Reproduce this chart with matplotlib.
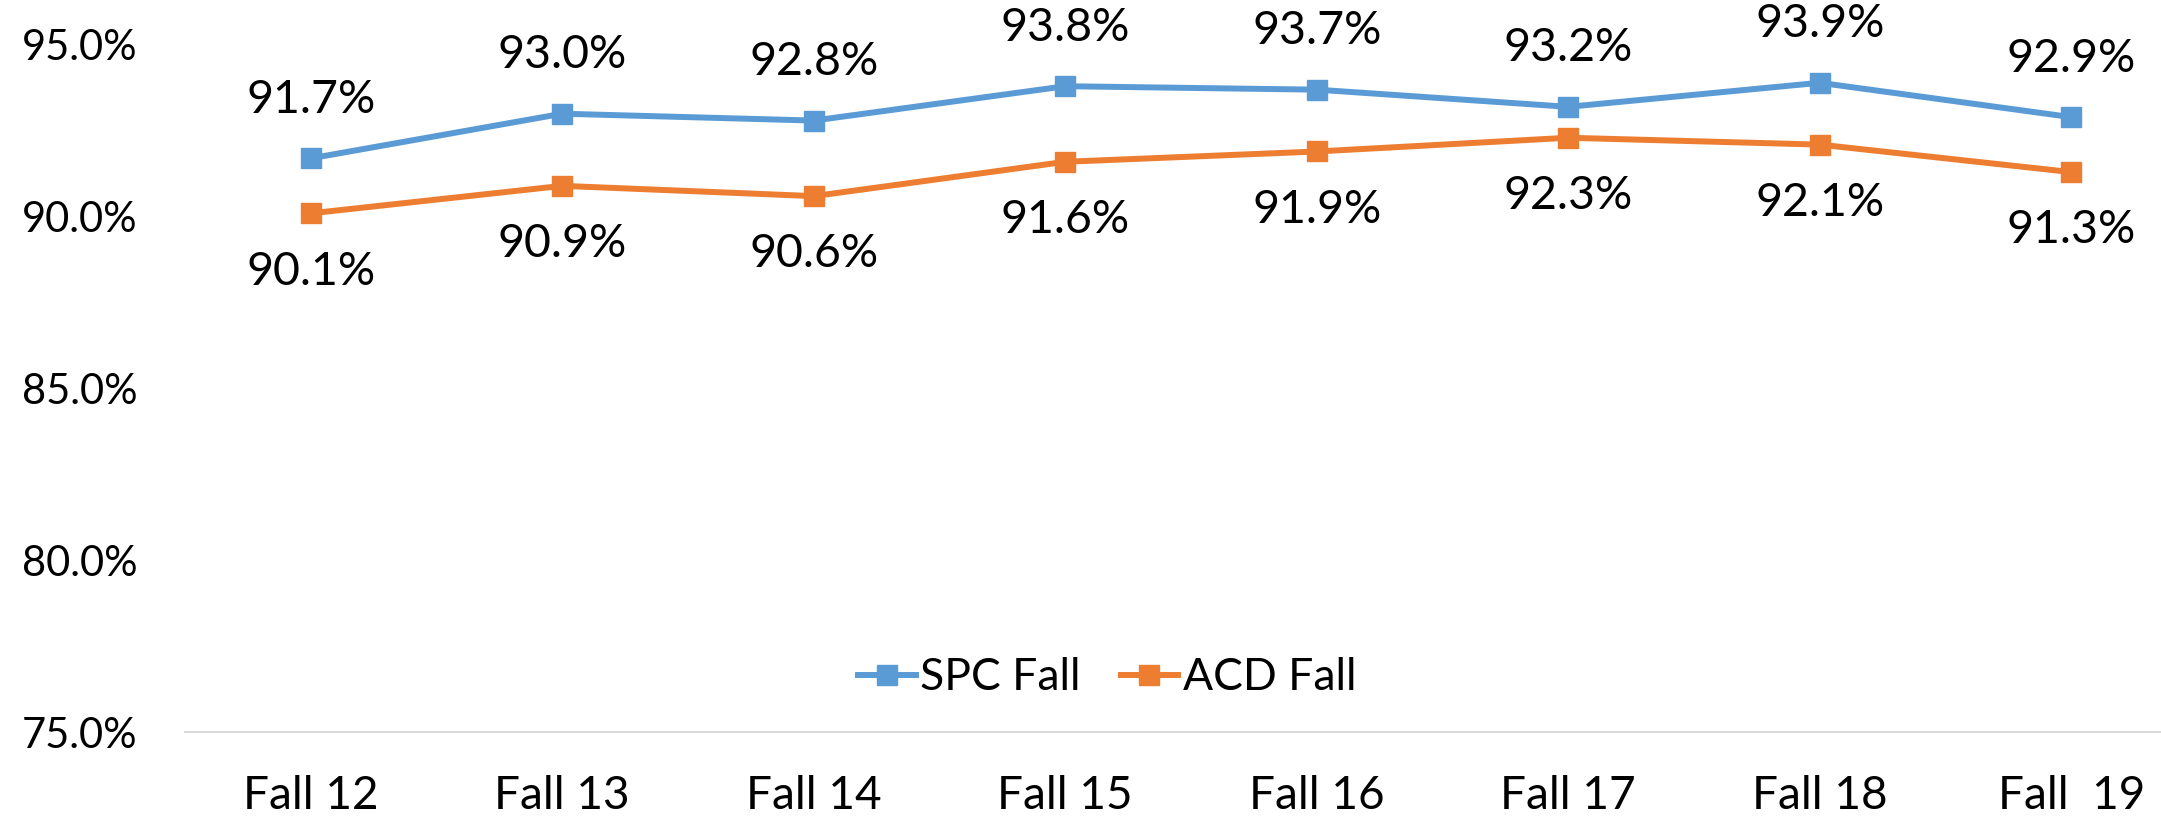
import matplotlib
matplotlib.use("Agg")
import matplotlib.pyplot as plt
import numpy as np

###--- Data ---###
terms = ["Fall 12", "Fall 13", "Fall 14", "Fall 15", "Fall 16", "Fall 17", "Fall 18", "Fall  19"]
spc_fall = [91.7, 93.0, 92.8, 93.8, 93.7, 93.2, 93.9, 92.9]
acd_fall = [90.1, 90.9, 90.6, 91.6, 91.9, 92.3, 92.1, 91.3]
y_ticks = [75.0, 80.0, 85.0, 90.0, 95.0]

blue = "#5B9BD5"
orange = "#ED7D31"

plt.rcParams['font.family'] = ['Lato', 'DejaVu Sans']

fig = plt.figure(figsize=(21.61, 8.25), dpi=100)
# axes right edge runs past the figure, the original chart is cropped there
ax = fig.add_axes([185 / 2161, 1 - 732 / 825, (2197 - 185) / 2161, (732 - 45) / 825])

x = np.arange(len(terms))
ax.plot(x, spc_fall, color=blue, lw=4.3, marker="s", ms=15, label="SPC Fall", clip_on=False)
ax.plot(x, acd_fall, color=orange, lw=4.3, marker="s", ms=15, label="ACD Fall", clip_on=False)

# data labels: SPC above, ACD below
for xi, v in zip(x, spc_fall):
    ax.annotate(f"{v:.1f}%", (xi, v), xytext=(0, 42), textcoords="offset points",
                ha="center", va="center", fontsize=33.5)
for xi, v in zip(x, acd_fall):
    ax.annotate(f"{v:.1f}%", (xi, v), xytext=(0, -42), textcoords="offset points",
                ha="center", va="center", fontsize=33.5)

ax.set_xlim(-0.5, len(terms) - 0.5)
ax.set_ylim(75, 95)
ax.set_xticks(x)
ax.set_xticklabels(terms, fontsize=33)
ax.set_yticks(y_ticks)
ax.set_yticklabels([f"{t:.1f}%" for t in y_ticks], fontsize=30)
ax.tick_params(axis="y", length=0, pad=34)
ax.tick_params(axis="x", length=0, pad=31)

for s in ["top", "right", "left"]:
    ax.spines[s].set_visible(False)
ax.spines["bottom"].set_color("#D9D9D9")
ax.spines["bottom"].set_linewidth(1.5)

fig.legend(loc="center", bbox_to_anchor=(1107 / 2161, 1 - 678 / 825), ncol=2, frameon=False,
           fontsize=32, handlelength=1.3, handletextpad=0.1, columnspacing=0.9)

fig.savefig("out.png", dpi=100)
